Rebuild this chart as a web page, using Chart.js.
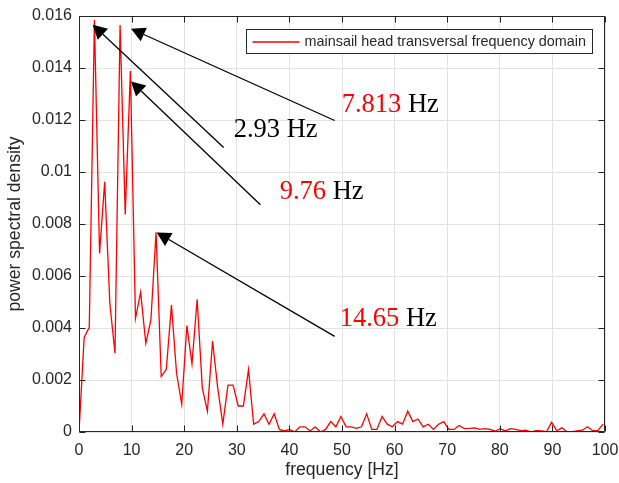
<!DOCTYPE html>
<html>
<head>
<meta charset="utf-8">
<script src="https://cdn.jsdelivr.net/npm/chart.js@4/dist/chart.umd.min.js"></script>
<style>
  html, body { margin: 0; padding: 0; background: #ffffff; }
  #wrap { width: 619px; height: 483px; }
</style>
</head>
<body>
<div id="wrap"><canvas id="c" width="619" height="483"></canvas></div>
<script>
// ---- data ----
const frequencies = [
  0, 0.98, 1.95, 2.93, 3.91, 4.88, 5.86, 6.84, 7.81, 8.79,
  9.77, 10.74, 11.72, 12.70, 13.67, 14.65, 15.63, 16.60, 17.58, 18.55,
  19.53, 20.51, 21.48, 22.46, 23.44, 24.41, 25.39, 26.37, 27.34, 28.32,
  29.30, 30.27, 31.25, 32.23, 33.20, 34.18, 35.16, 36.13, 37.11, 38.09,
  39.06, 40.04, 41.02, 41.99, 42.97, 43.95, 44.92, 45.90, 46.88, 47.85,
  48.83, 49.80, 50.78, 51.76, 52.73, 53.71, 54.69, 55.66, 56.64, 57.62,
  58.59, 59.57, 60.55, 61.52, 62.50, 63.48, 64.45, 65.43, 66.41, 67.38,
  68.36, 69.34, 70.31, 71.29, 72.27, 73.24, 74.22, 75.20, 76.17, 77.15,
  78.13, 79.10, 80.08, 81.05, 82.03, 83.01, 83.98, 84.96, 85.94, 86.91,
  87.89, 88.87, 89.84, 90.82, 91.80, 92.77, 93.75, 94.73, 95.70, 96.68,
  97.66, 98.63, 99.61
];
const psd = [
  0, 0.00364, 0.00403, 0.01585, 0.00687, 0.00962, 0.00495, 0.00303, 0.01565, 0.00837,
  0.01388, 0.00437, 0.00538, 0.00341, 0.00431, 0.00768, 0.00213, 0.00241, 0.00488, 0.00226,
  0.00106, 0.00409, 0.00262, 0.00510, 0.00170, 0.00080, 0.00350, 0.00170, 0.00030, 0.00180,
  0.00180, 0.00100, 0.00100, 0.00240, 0.00030, 0.00040, 0.00070, 0.00030, 0.00070, 0.00010,
  0.00004, 0.00010, 0.00000, 0.00020, 0.00020, 0.00004, 0.00020, 0.00000, 0.00010, 0.00040,
  0.00020, 0.00060, 0.00020, 0.00020, 0.00014, 0.00020, 0.00070, 0.00010, 0.00010, 0.00060,
  0.00030, 0.00020, 0.00040, 0.00030, 0.00080, 0.00040, 0.00050, 0.00020, 0.00030, 0.00010,
  0.00030, 0.00040, 0.00010, 0.00010, 0.00025, 0.00013, 0.00014, 0.00016, 0.00010, 0.00013,
  0.00010, 0.00003, 0.00013, 0.00004, 0.00013, 0.00010, 0.00005, 0.00007, 0.00000, 0.00005,
  0.00004, 0.00001, 0.00037, 0.00005, 0.00016, 0.00001, 0.00001, 0.00004, 0.00007, 0.00020,
  0.00005, 0.00005, 0.00030
];
const seriesLabel = "mainsail head transversal frequency domain";
const xTitle = "frequency [Hz]";
const yTitle = "power spectral density";

// annotation arrows: tail -> tip, in data units (Hz, psd)
const arrowTails = [[48.6, 0.01198], [27.5, 0.010946], [34.49, 0.008742], [48.6, 0.003677]];
const arrowTips  = [[9.89, 0.01551], [2.60, 0.015665], [9.89, 0.013485], [14.77, 0.007677]];
// annotation labels: number part, unit part, whether the number is red
const labelNumbers = ["7.813", "2.93", "9.76", "14.65"];
const labelUnits   = [" Hz", " Hz", " Hz", " Hz"];
const labelRed     = [true, false, true, true];
const labelAnchors = [[49.94, 0.012292], [29.41, 0.011331], [38.16, 0.008962], [49.56, 0.004062]];

// ---- chart ----
const AXIS_COLOR = '#262626';
const LINE_COLOR = '#ff0000';
const UI_FONT = '"Liberation Sans", Arial, Helvetica, sans-serif';

const boxPlugin = {
  id: 'boxAndTicks',
  afterDatasetsDraw(chart) {
    const { ctx, chartArea: a, scales } = chart;
    const L = Math.round(a.left) + 0.5, R = Math.round(a.right) - 0.5;
    const T = Math.round(a.top) + 0.5, B = Math.round(a.bottom) - 0.5;
    ctx.save();
    ctx.strokeStyle = AXIS_COLOR;
    ctx.lineWidth = 1;
    ctx.beginPath();
    ctx.rect(L, T, R - L, B - T);
    ctx.stroke();
    const tl = 6;
    ctx.beginPath();
    scales.x.ticks.forEach(t => {
      const px = Math.round(scales.x.getPixelForValue(t.value)) + 0.5;
      ctx.moveTo(px, B); ctx.lineTo(px, B - tl);
      ctx.moveTo(px, T); ctx.lineTo(px, T + tl);
    });
    scales.y.ticks.forEach(t => {
      const py = Math.round(scales.y.getPixelForValue(t.value)) + 0.5;
      ctx.moveTo(L, py); ctx.lineTo(L + tl, py);
      ctx.moveTo(R, py); ctx.lineTo(R - tl, py);
    });
    ctx.stroke();

    // legend (inside, north-east)
    const label = chart.data.datasets[0].label;
    ctx.font = '14.4px ' + UI_FONT;
    const tw = ctx.measureText(label).width;
    const boxR = Math.round(a.right - 13) + 0.5;
    const boxT = Math.round(a.top + 13) + 0.5;
    const boxW = Math.round(tw + 58 + 6);
    const boxH = 24;
    const boxL = boxR - boxW;
    ctx.fillStyle = '#ffffff';
    ctx.fillRect(boxL, boxT, boxW, boxH);
    ctx.strokeStyle = AXIS_COLOR;
    ctx.lineWidth = 1;
    ctx.strokeRect(boxL, boxT, boxW, boxH);
    const midY = Math.round(boxT + boxH / 2);
    ctx.strokeStyle = LINE_COLOR;
    ctx.lineWidth = 1.3;
    ctx.beginPath();
    ctx.moveTo(boxL + 6, midY); ctx.lineTo(boxL + 53, midY);
    ctx.stroke();
    ctx.fillStyle = AXIS_COLOR;
    ctx.textBaseline = 'middle';
    ctx.textAlign = 'left';
    ctx.fillText(label, boxL + 58, midY + 0.5);
    ctx.restore();
  }
};

const annoPlugin = {
  id: 'arrowsAndLabels',
  afterDraw(chart) {
    const { ctx, scales: { x, y } } = chart;
    ctx.save();
    arrowTails.forEach((tail, i) => {
      const tip = arrowTips[i];
      const x0 = x.getPixelForValue(tail[0]), y0 = y.getPixelForValue(tail[1]);
      const x1 = x.getPixelForValue(tip[0]), y1 = y.getPixelForValue(tip[1]);
      const ang = Math.atan2(y1 - y0, x1 - x0);
      const hl = 14, hw = 7.5;
      const bx = x1 - hl * Math.cos(ang), by = y1 - hl * Math.sin(ang);
      ctx.strokeStyle = '#000000';
      ctx.lineWidth = 1.3;
      ctx.beginPath();
      ctx.moveTo(x0, y0); ctx.lineTo(bx, by);
      ctx.stroke();
      ctx.fillStyle = '#000000';
      ctx.beginPath();
      ctx.moveTo(x1, y1);
      ctx.lineTo(bx + hw * Math.sin(ang), by - hw * Math.cos(ang));
      ctx.lineTo(bx - hw * Math.sin(ang), by + hw * Math.cos(ang));
      ctx.closePath();
      ctx.fill();
    });
    ctx.font = '26.5px "Liberation Serif", "Times New Roman", serif';
    ctx.textBaseline = 'alphabetic';
    ctx.textAlign = 'left';
    labelNumbers.forEach((num, i) => {
      const px = x.getPixelForValue(labelAnchors[i][0]);
      const py = y.getPixelForValue(labelAnchors[i][1]);
      ctx.fillStyle = labelRed[i] ? '#ff0000' : '#000000';
      ctx.fillText(num, px, py);
      const w = ctx.measureText(num).width;
      ctx.fillStyle = '#000000';
      ctx.fillText(labelUnits[i], px + w, py);
    });
    ctx.restore();
  }
};

const points = frequencies.map((f, i) => ({ x: f, y: psd[i] }));

new Chart(document.getElementById('c'), {
  type: 'line',
  data: {
    datasets: [{
      label: seriesLabel,
      data: points,
      borderColor: LINE_COLOR,
      borderWidth: 1.3,
      pointRadius: 0,
      tension: 0,
      fill: false
    }]
  },
  options: {
    responsive: false,
    animation: false,
    devicePixelRatio: 1,
    layout: { padding: { top: 16, right: 14, left: 0, bottom: 0 } },
    plugins: { legend: { display: false }, tooltip: { enabled: false } },
    scales: {
      x: {
        type: 'linear',
        min: 0, max: 100,
        afterFit(s) { s.height = 51; s.paddingLeft = 0; s.paddingRight = 0; },
        ticks: {
          stepSize: 10,
          color: AXIS_COLOR,
          font: { family: UI_FONT, size: 16 },
          padding: 9,
          maxRotation: 0
        },
        grid: { color: '#e3e3e3', lineWidth: 1, drawTicks: false },
        border: { display: false },
        title: {
          display: true, text: xTitle, color: AXIS_COLOR,
          font: { family: UI_FONT, size: 17.6 },
          padding: { top: 0, bottom: 2 }
        }
      },
      y: {
        type: 'linear',
        min: 0, max: 0.016,
        afterFit(s) { s.width = 79; s.paddingTop = 0; s.paddingBottom = 0; },
        ticks: {
          stepSize: 0.002,
          color: AXIS_COLOR,
          font: { family: UI_FONT, size: 16 },
          padding: 7,
          callback: v => String(+v.toFixed(3))
        },
        grid: { color: '#e3e3e3', lineWidth: 1, drawTicks: false },
        border: { display: false },
        title: {
          display: true, text: yTitle, color: AXIS_COLOR,
          font: { family: UI_FONT, size: 17.6 },
          padding: { top: 5, bottom: 0 }
        }
      }
    }
  },
  plugins: [boxPlugin, annoPlugin]
});
</script>
</body>
</html>
